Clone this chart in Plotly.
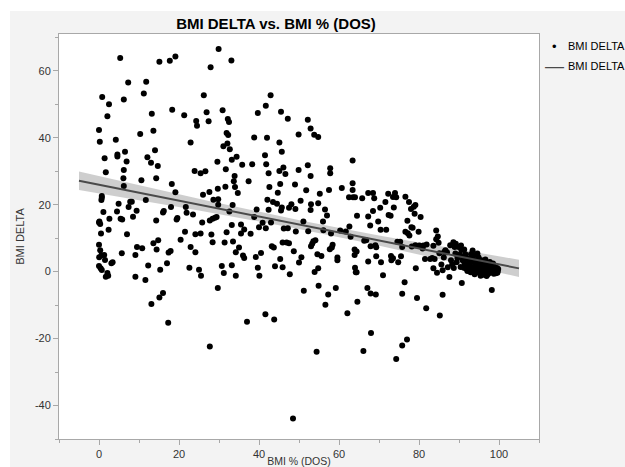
import numpy as np
import plotly.graph_objects as go

# ---- data ----
bmi_pct = [
    0, 0.2, 0.8, 0, 0.1, 0.3, 0.5, 0, 0.3, 0.05,
    0.6, 0, 0.4, 0.7, 0.7, 0.6, 0.7, 1.3, 1.5, 1.4,
    1.7, 1.1, 1.7, 2.5, 2.1, 2.6, 2.4, 2.1, 2.3, 3.1,
    3.4, 5.3, 4.2, 4.6, 4.6, 4.5, 4.9, 5.4, 5.8, 5.7,
    6.2, 6.5, 6.2, 6.1, 6.2, 6.9, 7.3, 7, 7.4, 7.8,
    8.2, 8.5, 9.4, 9.1, 9.5, 9.1, 10.3, 10.6, 10.8, 11.2,
    11.8, 11.7, 12.1, 12.3, 11.6, 13, 13.2, 13.6, 13.1, 13.6,
    14, 14.3, 14.3, 14.4, 14.7, 14.8, 15.1, 15.3, 15.1, 16,
    16, 16.2, 17.3, 17, 17.4, 17.9, 17.7, 19.1, 18.3, 18.2,
    18, 19.1, 19.6, 19.4, 20.4, 21.3, 21.5, 21.7, 21.9, 22.9,
    22.9, 23.5, 22.6, 23.9, 24.1, 24.1, 24.3, 24.5, 25, 25.5,
    25.4, 25.4, 25.8, 26, 26.2, 26.6, 26.9, 27.4, 27.6, 27.7,
    27.9, 27.7, 28.1, 28.4, 28.4, 28.6, 29, 29.4, 29.6, 29.7,
    29.7, 29.8, 29.8, 29.9, 30.7, 30.9, 31.2, 31.1, 31.4, 31.7,
    31.6, 31.9, 32.1, 31.9, 32.2, 32.5, 32.3, 32.6, 32.7, 33.1,
    33.2, 33.2, 33.4, 33.2, 33.5, 33.7, 33.9, 34, 34.4, 34.2,
    34.2, 34.7, 35, 35.5, 35.5, 35.8, 36, 36.3, 36.3, 37,
    37.4, 37.9, 38.3, 38.8, 38.8, 39.2, 39.4, 39.7, 39.7, 40,
    40.1, 40.5, 40.9, 41.5, 41.7, 41.7, 41.6, 41.8, 42, 42.1,
    42.4, 42.4, 42.6, 42.9, 43, 43.2, 43.5, 43.7, 43.8, 44,
    44.5, 44.7, 45.1, 45.1, 45.3, 45.3, 45.5, 45.7, 45.5, 45.7,
    45.9, 45.9, 46.1, 46.6, 46.2, 46.9, 47.2, 47.2, 47.5, 47.5,
    47.7, 48.1, 48.5, 48.7, 49, 49.1, 49.2, 49.9, 49.9, 50,
    50.4, 50.6, 51.1, 51.2, 51.8, 52.2, 52.2, 52.3, 52.9, 52.9,
    52.9, 53, 53, 53.3, 53.6, 53.9, 53.8, 54.1, 54.4, 54.6,
    54.8, 54.8, 54.8, 54.9, 55.2, 55.6, 56, 56.1, 56.5, 56.6,
    57, 57.3, 57.5, 57.7, 57.8, 57.8, 58, 58.2, 58.4, 59.2,
    59.6, 59.6, 60.3, 60.7, 61.7, 62.1, 62.6, 62.5, 62.9, 63.4,
    63.4, 63.4, 63.5, 63.9, 64, 64, 63.9, 64.2, 64.4, 64.4,
    64.6, 64.5, 65.8, 66.3, 66.1, 66.8, 67.1, 67.3, 67.3, 67.3,
    67.8, 67.9, 67.9, 68, 68.5, 68.5, 68.8, 69.1, 69.2, 69.3,
    69.3, 69.8, 70.3, 70.4, 70.5, 71, 71.6, 71.8, 72.3, 72.4,
    72.9, 73, 73.1, 73.5, 73.5, 73.7, 74, 74.3, 74.3, 74.6,
    74.8, 75.3, 75.5, 75.8, 75.8, 75.8, 76.4, 76.6, 76.6, 77,
    77.1, 77.2, 77.5, 77.6, 78, 78.1, 78.2, 78.4, 78.7, 78.9,
    79.1, 79.1, 79.2, 79.5, 79.9, 80.1, 80.4, 80.9, 81.1, 81.5,
    81.8, 81.9, 82.8, 83.3, 83.6, 83.6, 83.9, 84.3, 84.3, 84.5,
    84.7, 84.9, 85.1, 85.2, 85.6, 85.9, 85.9, 86.2, 86.3, 86.6,
    87, 87.2, 87.6, 87.8, 88, 88.3, 88.6, 88.9, 89.1, 89.4,
    89.9, 90.2, 90.4, 90.7, 90.9, 91.2, 91.4, 91.6, 92, 92.1,
    92.3, 92.5, 92.9, 93, 93.1, 93.5, 93.8, 94, 94.3, 94.5,
    94.9, 95.1, 95.3, 95.5, 95.8, 96, 96.3, 96.5, 96.7, 97,
    97.2, 97.5, 97.8, 98, 98.2, 98.4, 98.6, 98.9, 99.1, 99.4,
    99.7, 93.3, 93.6, 94.1, 94.4, 94.7, 95, 95.2, 95.6, 95.9,
    96.1, 96.4, 96.8, 97.1, 97.3, 97.6, 97.9, 98.1, 98.3, 98.7,
    98.8, 99, 99.2, 99.5, 99.6, 92.6, 91.8, 92.8, 93.9, 95.4,
    96.9, 91, 89.6, 90.6, 88.7, 94.6, 93.4, 99.8, 98.5, 97.7,
    96.6, 89.2, 90.5, 91.3,
]

bmi_delta = [
    42.3, 38.8, 52.2, 14.7, 15, 14.2, 11.4, 8, 6.4, 4.3,
    4.9, 1.7, 1, 0.5, 22.1, 21.4, 22.6, 5, 3.5, 33.9,
    29.7, 17.8, -1.5, 50, 46.4, 15.8, 12.5, -0.4, -1.2, 2.5,
    2.8, 63.8, 39.4, 34.4, 35, 18, 20.3, 15.8, 15.6, 5.5,
    51.4, 35.8, 30.4, 27.9, 25.6, 32.9, 56.5, 11.2, 19.3, 20.9,
    20.9, 16.4, 18.2, 5, 7.4, -1.5, 41.1, 27.3, 7, 53.2,
    56.7, 21.4, 34.2, 1.8, -2.5, 32.5, 47.2, 42.1, -9.7, 8.5,
    36.3, 27.9, 15.3, 6.6, 31.6, 9.4, 62.7, 0.6, -7.7, -6.4,
    17.7, 18.1, -15.3, 2.5, 5.7, 6.2, 63, 64.3, 48.4, 26.2,
    19.3, 23.7, 16, 15.6, 9.5, 46.7, 11.9, 19.3, 17.6, 38.6,
    7.4, 17.1, 1.2, 30.1, 11.2, 5.8, 45, 43.6, 0.6, -1.2,
    11.4, 29.4, 14.7, 23, 52.7, 30, 47.6, 44.9, 23.8, -22.4,
    61.1, 15.3, 11.1, 8.8, 15.8, 21.5, 16.1, 16.3, 32.8, -4.9,
    24.8, 21.6, 20, 66.5, 1.7, 48.2, -0.4, 37.5, 8.7, 30.6,
    25.4, 41.4, 38.3, 11.8, 45.6, 44.7, 40.8, 18, 36.6, 63.1,
    33.4, 13.9, 19.9, 1.9, 9, 27, 28.6, 25.3, 34.3, -1.2,
    5.8, 23.5, 7.2, 11.4, 14.1, 31.9, 4.8, 4.1, 12.6, -15,
    27, 11.3, 32.1, 40.1, 16.3, 4.4, 18.6, 47.4, 1.2, 13.3,
    -1.2, 5.6, 14.6, 34.8, 49.6, 13, -12.7, 32.1, 40, 21.5,
    29.4, 18.5, 25.3, 52.7, 14.7, 7.6, 20.8, 7.2, -14.3, 1.6,
    20.3, 23.6, 30.1, 38.6, 3.8, 26.2, 47.8, 35.8, 18.3, 19.2,
    1.3, 8.7, 31.1, 29.2, 12.9, 8.7, 45.7, 13, 8.5, 19.1,
    -0.8, 20.1, -43.9, 6.1, 26, 18.7, 12, 41, 30.4, 2.7,
    21.2, 4.3, 15, -5.7, 24.3, 31.8, 45.4, 12.1, 42.8, 28.6,
    18.4, 20.1, 7.6, 8.3, 9.1, -0.1, 40.9, 9.4, -23.9, 5.2,
    40.2, 20.4, 1, -4.2, 23.3, 4.7, 15, 12.4, 18.6, -9.9,
    16.8, -6.8, 24.4, 6.7, 30.9, 29.4, 11.4, 7.2, 8, -4.9,
    4.2, 3.4, 12.3, 25, 12, -12.4, 13.5, 22.2, 10.4, 33.2,
    26.4, 24.4, 22.2, 6.6, 22.2, 1.2, 5, -0.2, 6, -0.2,
    -9, 16.7, 21.9, 9.2, -23.7, 9.4, -4.9, 16.5, 3, 23.5,
    13.8, 7.6, -6.5, -18.3, 23.5, 18.1, 21.9, 7.9, -6.8, 7.3,
    4.6, 15, 19.1, 12.5, 2.8, -1.1, 20.8, 12.5, 23.3, 16.9,
    16.7, 4.7, 3.4, 4, 22.3, 19.2, 23.5, 22.2, -26.1, 8.9,
    2.8, 8.9, 4.6, 7.4, -22.1, -6.6, -3.2, 22.4, 11.9, -20.3,
    15.2, 11.5, 20.8, 10.8, 18.7, 13.3, 7.5, 13.1, 19.4, 17.3,
    19.9, 7.9, 1, -7.9, 11.9, 7.8, 16.3, 6.9, 7.8, 3.8,
    -10.9, 8.1, 3.8, 4.1, 7.7, 1, 3.8, 12.3, 9.7, -0.3,
    10.5, 8.6, 5.5, -13.1, 2.1, -6.9, 0.4, 4.2, 5.9, 6.4,
    5.8, 1.3, -1.6, 7.9, 3.4, 2.2, 8.8, 7.4, 5.4, 2.8,
    7.4, 5.1, 1.4, -3.4, 3.4, 1.2, 2.4, 5.2, 3.8, 0.2,
    1.7, 2.4, -0.2, 5.2, 2.9, 1.4, 4.9, 0.6, 2.6, -0.1,
    4.2, 1.9, -0.6, 1.1, 2.4, 0.2, 1.4, -0.4, 0.8, 1.9,
    -0.8, 0.6, 1.4, -0.1, -5.5, 0.8, 0.2, 1, -0.1, 0.5,
    0.2, 3.6, 0.3, 1.8, 3.3, 0.9, 2.9, 0.1, 3.4, 1.6,
    -0.9, 2.6, 1.5, 0.1, 2.2, -0.4, 0.9, 1.7, 0.1, -0.6,
    1.5, 0.6, -0.5, 1.1, -0.3, 3.9, 0.9, 1.1, -0.8, -1.2,
    -1.3, 4.4, 4.1, 6.5, 1.1, 5.4, 6.3, 0.8, 2.4, 2.9,
    3.6, 8.3, 7.8, 6.6,
]

fit_x_range = [-5, 105]
x_ticks = [0, 20, 40, 60, 80, 100]
x_tick_labels = ["0", "20", "40", "60", "80", "100"]
y_ticks = [-40, -20, 0, 20, 40, 60]
y_tick_labels = ["-40", "-20", "0", "20", "40", "60"]

title_text = "BMI DELTA vs. BMI % (DOS)"
x_title = "BMI % (DOS)"
y_title = "BMI DELTA"
legend_labels = ["BMI DELTA", "BMI DELTA"]

# ---- linear fit with 95% confidence band (computed from the data) ----
x = np.array(bmi_pct, dtype=float)
y = np.array(bmi_delta, dtype=float)
n = len(x)
slope, intercept = np.polyfit(x, y, 1)
resid = y - (intercept + slope * x)
s = np.sqrt(np.sum(resid ** 2) / (n - 2))
xbar = x.mean()
sxx = np.sum((x - xbar) ** 2)
xf = np.linspace(fit_x_range[0], fit_x_range[1], 111)
yf = intercept + slope * xf
se = s * np.sqrt(1.0 / n + (xf - xbar) ** 2 / sxx)
upper = yf + 1.96 * se
lower = yf - 1.96 * se

FONT = "Liberation Sans, Arial, Helvetica, sans-serif"
LINE_COLOR = "#4a4a4a"

fig = go.Figure()

fig.add_trace(go.Scatter(
    x=np.concatenate([xf, xf[::-1]]),
    y=np.concatenate([upper, lower[::-1]]),
    fill="toself", fillcolor="rgba(165,165,165,0.55)",
    line=dict(width=0), mode="lines", hoverinfo="skip", showlegend=False,
))

fig.add_trace(go.Scatter(
    x=bmi_pct, y=bmi_delta, mode="markers", name=legend_labels[0],
    marker=dict(color="black", size=6, line=dict(width=0)),
    showlegend=False,
))

fig.add_trace(go.Scatter(
    x=xf, y=yf, mode="lines", name=legend_labels[1],
    line=dict(color=LINE_COLOR, width=2), showlegend=False,
))

axis_common = dict(
    showgrid=False, zeroline=False, showline=True, mirror=True,
    linecolor="#a8a8a8", linewidth=1, automargin=False,
    ticks="outside", ticklen=5, tickcolor="#a8a8a8", tickwidth=1,
    tickfont=dict(family=FONT, size=11, color="#333333"),
    minor=dict(ticks="outside", ticklen=3, tickcolor="#a8a8a8", dtick=10),
)

fig.update_xaxes(
    range=[-10, 110], tickmode="array", tickvals=x_ticks, ticktext=x_tick_labels,
    title=dict(text=x_title, font=dict(family=FONT, size=10.5, color="#333333"), standoff=1),
    **axis_common,
)
fig.update_yaxes(
    range=[-50, 71], tickmode="array", tickvals=y_ticks, ticktext=y_tick_labels,
    title=dict(text=y_title, font=dict(family=FONT, size=11, color="#333333"), standoff=8),
    **axis_common,
)

# legend drawn as text beside the plot (marker glyph, line glyph, labels)
legend_font = dict(family=FONT, size=11, color="black")
legend_items = [
    dict(text="\u2022", x=1.0333, y=0.970, xanchor="center",
         font=dict(family=FONT, size=13, color="black")),
    dict(text=legend_labels[0], x=1.0563, y=0.970, xanchor="left", font=legend_font),
    dict(text="\u2014", x=1.0323, y=0.921, xanchor="center",
         font=dict(family=FONT, size=19, color=LINE_COLOR)),
    dict(text=legend_labels[1], x=1.0563, y=0.921, xanchor="left", font=legend_font),
]
annotations = []
for it in legend_items:
    a = dict(xref="paper", yref="paper", yanchor="middle", showarrow=False)
    a.update(it)
    annotations.append(a)

fig.update_layout(
    width=625, height=467,
    margin=dict(l=59, r=86, t=34, b=28, autoexpand=False),
    paper_bgcolor="white", plot_bgcolor="white",
    title=dict(text="<b>" + title_text + "</b>", x=0.4416, xanchor="center",
               y=0.9486, yanchor="middle",
               font=dict(family=FONT, size=15, color="black")),
    annotations=annotations,
    shapes=[
        dict(type="rect", xref="paper", yref="paper", x0=-0.102, x1=1.4,
             y0=-0.3, y1=1.057, fillcolor="#f3f3f3", line=dict(width=0), layer="below"),
        dict(type="rect", xref="paper", yref="paper", x0=0, x1=1, y0=0, y1=1,
             fillcolor="white", line=dict(width=0), layer="below"),
    ],
    showlegend=False,
)

page_fix = (
    "document.body.style.margin='0';"
    "document.body.style.overflow='hidden';"
    "document.documentElement.style.overflow='hidden';"
)
fig.write_html("out.html", post_script=page_fix,
               config={"displayModeBar": False})
